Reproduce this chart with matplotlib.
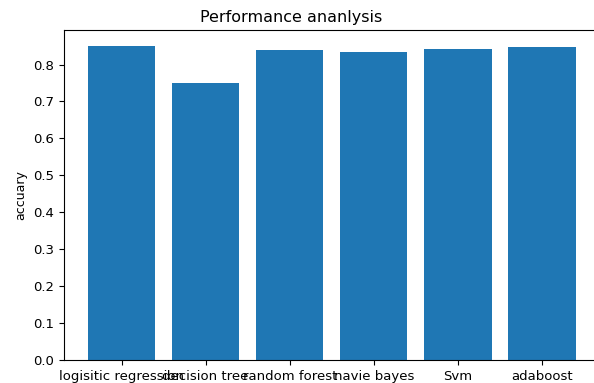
import matplotlib.pyplot as plt

models = ['logisitic regression', 'decision tree', 'random forest', 'navie bayes', 'Svm', 'adaboost']
accuracy = [0.851, 0.751, 0.839, 0.835, 0.843, 0.848]

fig = plt.figure(figsize=(5.94, 3.83), dpi=100)
# axes run slightly past the right edge (reference is cropped there)
ax = fig.add_axes([63.5 / 594, 23 / 383, (600 - 63.5) / 594, 330 / 383])

ax.bar(models, accuracy, color='#1f77b4')
ax.set_ylabel('accuary', fontsize=9)
ax.set_title('Performance ananlysis', fontsize=11.5, x=0.424, pad=6)
ax.tick_params(labelsize=9.5)
ax.spines['right'].set_visible(False)

fig.savefig('out.png', dpi=100)
